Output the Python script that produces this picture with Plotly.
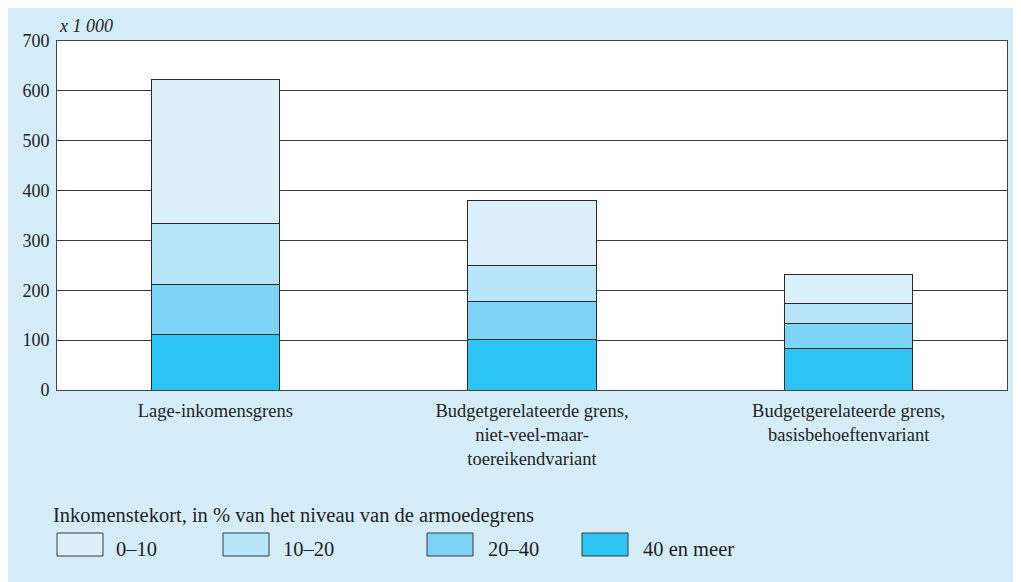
import plotly.graph_objects as go

categories = [
    "Lage-inkomensgrens",
    "Budgetgerelateerde grens,<br>niet-veel-maar-<br>toereikendvariant",
    "Budgetgerelateerde grens,<br>basisbehoeftenvariant",
]
series_names = ["40 en meer", "20–40", "10–20", "0–10"]
v_40_plus = [111, 101, 84]
v_20_40 = [101, 76, 50]
v_10_20 = [122, 72, 40]
v_0_10 = [289, 132, 58]
series_values = [v_40_plus, v_20_40, v_10_20, v_0_10]
colors = ["#2cc5f3", "#7dd3f5", "#b9e5f8", "#dbf0fb"]
y_ticks = [0, 100, 200, 300, 400, 500, 600, 700]
legend_title = "Inkomenstekort, in % van het niveau van de armoedegrens"
unit_label = "x 1 000"

FONT = "Liberation Serif, Times New Roman, serif"
TXT = "#231f20"
PANEL = "#d5ecf9"

OFF = 8  # page offset of the figure in the screenshot
W, H = 1005, 574
L, R, T, B = 49, 6, 33, 192
PW, PH = W - L - R, H - T - B

def px(x):
    return (x - OFF - L) / PW

def py(y):
    return (H - B - (y - OFF)) / PH

fig = go.Figure()
for name, vals, col in zip(series_names, series_values, colors):
    fig.add_trace(go.Bar(
        x=categories, y=vals, name=name,
        marker=dict(color=col, line=dict(color="#2b2b2b", width=1)),
        width=0.405, showlegend=False, hoverinfo="y+name",
    ))

shapes = []
annotations = [
    dict(text="<i>" + unit_label + "</i>", xref="paper", yref="paper",
         x=px(57), y=py(26), xanchor="left", yanchor="middle", showarrow=False,
         font=dict(family=FONT, size=18, color=TXT)),
    dict(text=legend_title, xref="paper", yref="paper",
         x=px(51), y=py(515), xanchor="left", yanchor="middle", showarrow=False,
         font=dict(family=FONT, size=20.5, color=TXT)),
]
box_x = [57, 223, 427, 582]
text_x = [114, 281, 486, 641]
# legend in reverse order (0–10 first)
for i, (name, col) in enumerate(zip(series_names[::-1], colors[::-1])):
    shapes.append(dict(type="rect", xref="paper", yref="paper",
                       x0=px(box_x[i]), x1=px(box_x[i] + 46),
                       y0=py(556), y1=py(533), fillcolor=col,
                       line=dict(color="#3a3a3a", width=1)))
    annotations.append(dict(text=name, xref="paper", yref="paper",
                            x=px(text_x[i]), y=py(549), xanchor="left", yanchor="middle",
                            showarrow=False, font=dict(family=FONT, size=20.5, color=TXT)))

fig.update_layout(
    barmode="stack",
    width=W, height=H,
    margin=dict(l=L, r=R, t=T, b=B, pad=0),
    paper_bgcolor=PANEL,
    plot_bgcolor="white",
    font=dict(family=FONT, size=18, color=TXT),
    shapes=shapes,
    annotations=annotations,
    showlegend=False,
)
fig.update_xaxes(
    showgrid=False, showline=True, linecolor="#444444", linewidth=1, mirror=True,
    ticks="", ticklabelstandoff=4, tickfont=dict(family=FONT, size=18.5, color=TXT),
)
fig.update_yaxes(
    range=[0, 700], tickvals=y_ticks, showgrid=True, gridcolor="#3a3a3a", gridwidth=1,
    showline=True, linecolor="#444444", linewidth=1, mirror=True, zeroline=False,
    ticks="", ticklabelstandoff=3, tickfont=dict(family=FONT, size=18, color=TXT),
)

fig.write_html("out.html")
